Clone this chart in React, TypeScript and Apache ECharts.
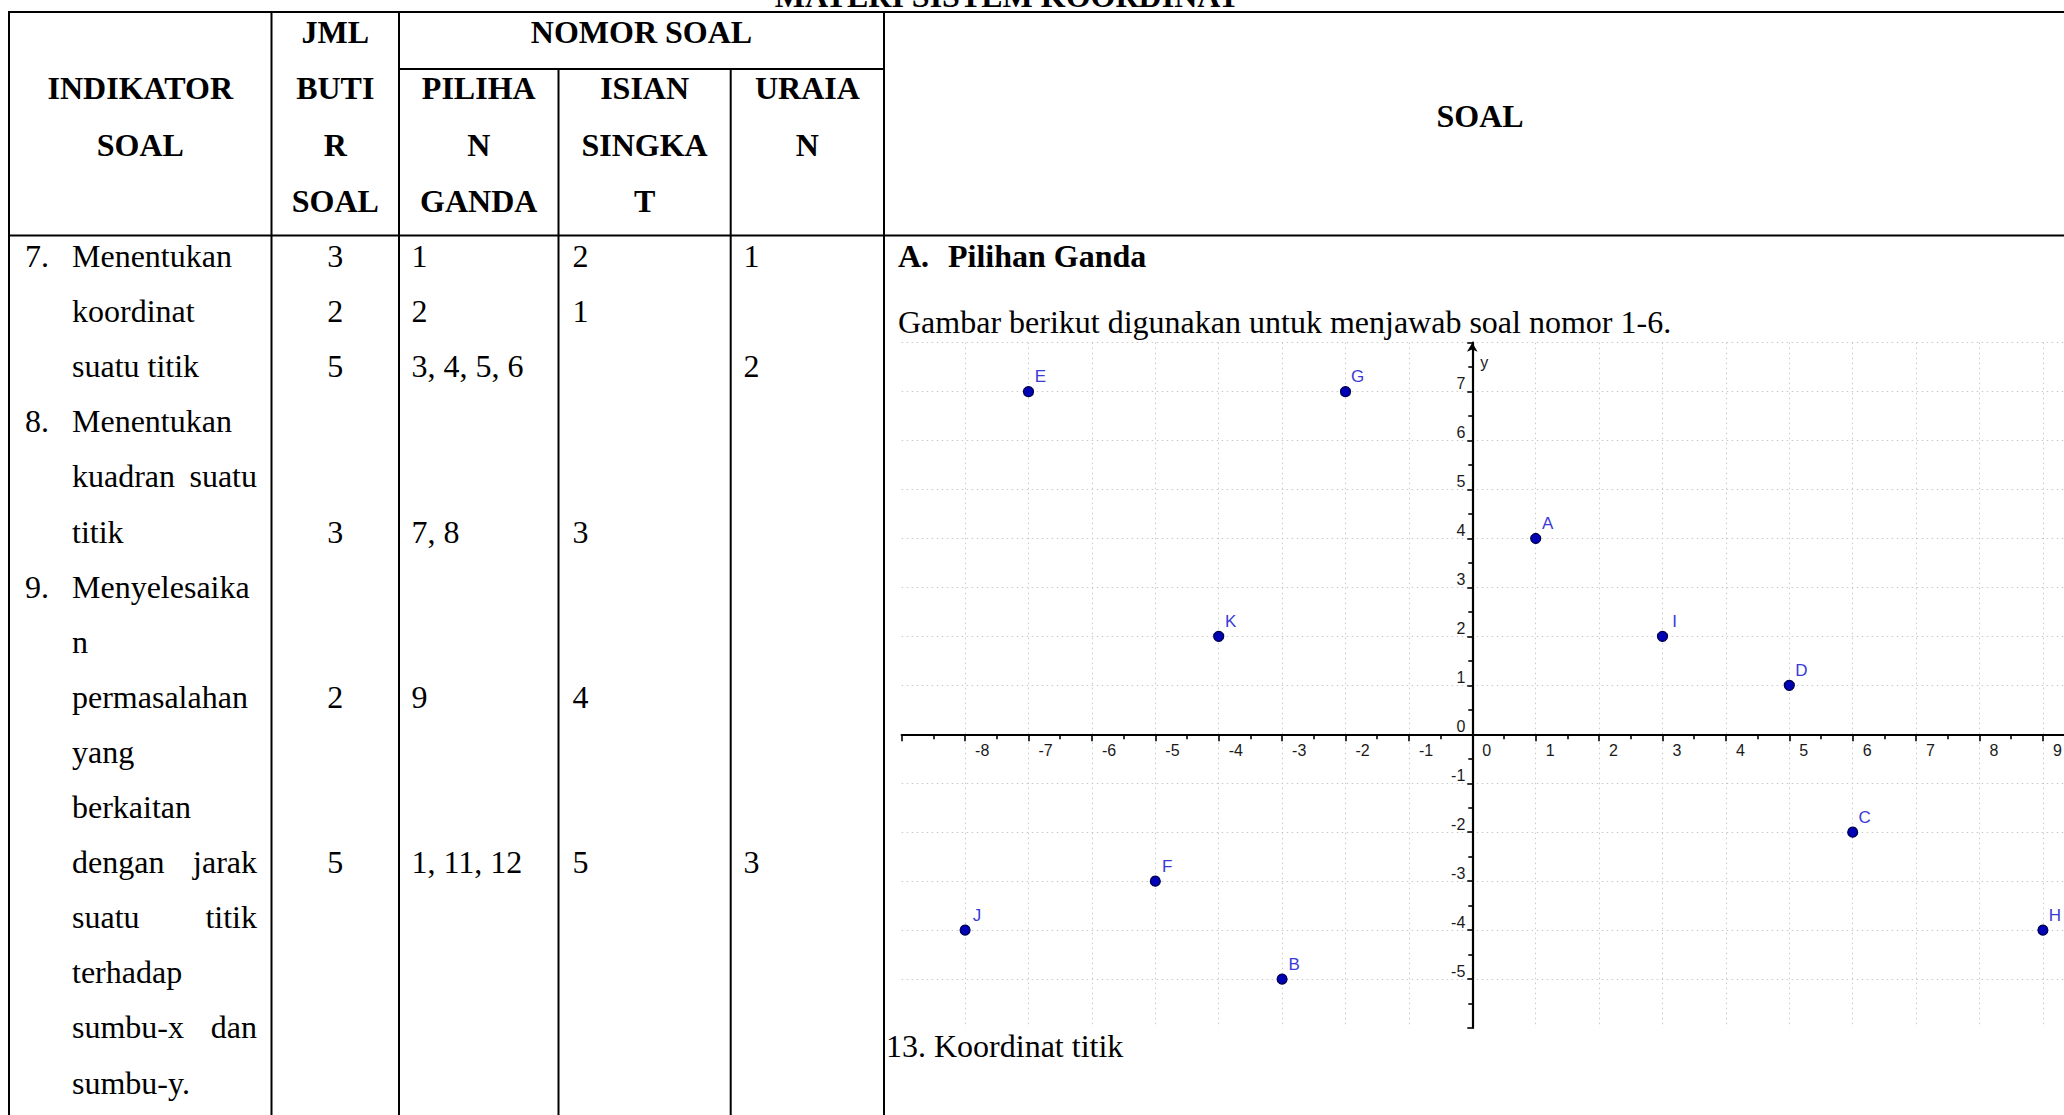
import React, { useEffect, useRef } from 'react';
import * as echarts from 'echarts';

// ---------- DATA ----------
const pageTitle = 'MATERI SISTEM KOORDINAT';
const headerIndikator = ['INDIKATOR', 'SOAL'];
const headerJml = ['JML', 'BUTI', 'R', 'SOAL'];
const headerNomor = 'NOMOR SOAL';
const headerPilihan = ['PILIHA', 'N', 'GANDA'];
const headerIsian = ['ISIAN', 'SINGKA', 'T'];
const headerUraian = ['URAIA', 'N'];
const headerSoal = 'SOAL';

const indikatorNo = ['7.', '', '', '8.', '', '', '9.', '', '', '', '', '', '', '', '', ''];
const indikatorLines = [
  ['Menentukan'], ['koordinat'], ['suatu titik'], ['Menentukan'], ['kuadran', 'suatu'], ['titik'],
  ['Menyelesaika'], ['n'], ['permasalahan'], ['yang'], ['berkaitan'], ['dengan', 'jarak'],
  ['suatu', 'titik'], ['terhadap'], ['sumbu-x', 'dan'], ['sumbu-y.'],
];
const jmlButir = ['3', '2', '5', '', '', '3', '', '', '2', '', '', '5', '', '', '', ''];
const nomorPilihan = ['1', '2', '3, 4, 5, 6', '', '', '7, 8', '', '', '9', '', '', '1, 11, 12', '', '', '', ''];
const nomorIsian = ['2', '1', '', '', '', '3', '', '', '4', '', '', '5', '', '', '', ''];
const nomorUraian = ['1', '', '2', '', '', '', '', '', '', '', '', '3', '', '', '', ''];

const sectionNo = 'A.';
const sectionTitle = 'Pilihan Ganda';
const introText = 'Gambar berikut digunakan untuk menjawab soal nomor 1-6.';
const nextQuestion = '13. Koordinat titik';

const pointNames = ['A', 'B', 'C', 'D', 'E', 'F', 'G', 'H', 'I', 'J', 'K'];
const pointX = [1, -3, 6, 5, -7, -5, -2, 9, 3, -8, -4];
const pointY = [4, -5, -2, 1, 7, -3, 7, -4, 2, -4, 2];
const xRange = [-9, 10];
const yRange = [-6, 8];
const axisNameY = 'y';

// ---------- LAYOUT ----------
const W = 2064;
const H = 1115;
const CW = 2150; // canvas wider than the page; the page clips it
const SERIF = '"Liberation Serif", "Times New Roman", serif';
const SANS = '"Liberation Sans", Arial, sans-serif';
const FS = 32;

const colX = [9, 271.5, 399, 558.5, 730.7, 884];
const tableTop = 12;
const headerMid = 69;
const headerBottom = 235.5;
const headerRowY = [32, 88.3, 144.5, 200.7];
const bodyY0 = 256;
const bodyStep = 55.1;

const unitX = 63.4;
const unitY = 48.95;
const originX = 1472.3;
const originY = 734.3;

function line(x1: number, y1: number, x2: number, y2: number, w = 2) {
  return { type: 'line', silent: true, shape: { x1, y1, x2, y2 }, style: { stroke: '#000', lineWidth: w } };
}
function text(t: string, x: number, y: number, align: string, bold = false, size = FS) {
  const font = `${bold ? 'bold ' : ''}${size}px ${SERIF}`;
  return {
    type: 'text', silent: true, x, y,
    style: {
      text: t, font, fill: '#000',
      align, verticalAlign: 'middle', textAlign: align, textVerticalAlign: 'middle',
    },
  };
}

function buildGraphic() {
  const g: any[] = [];
  g.push(text(pageTitle, 1007, -4.5, 'center', true));
  g.push(line(colX[0], tableTop, CW, tableTop));
  g.push(line(colX[0], headerBottom, CW, headerBottom));
  g.push(line(colX[2], headerMid, colX[5], headerMid));
  [0, 1, 2, 5].forEach((i) => g.push(line(colX[i], tableTop - 1, colX[i], H + 5)));
  [3, 4].forEach((i) => g.push(line(colX[i], headerMid, colX[i], H + 5)));

  const mid = (a: number, b: number) => (colX[a] + colX[b]) / 2;
  headerIndikator.forEach((t, i) => g.push(text(t, mid(0, 1), headerRowY[i + 1], 'center', true)));
  headerJml.forEach((t, i) => g.push(text(t, mid(1, 2), headerRowY[i], 'center', true)));
  g.push(text(headerNomor, mid(2, 5), headerRowY[0], 'center', true));
  headerPilihan.forEach((t, i) => g.push(text(t, mid(2, 3), headerRowY[i + 1], 'center', true)));
  headerIsian.forEach((t, i) => g.push(text(t, mid(3, 4), headerRowY[i + 1], 'center', true)));
  headerUraian.forEach((t, i) => g.push(text(t, mid(4, 5), headerRowY[i + 1], 'center', true)));
  g.push(text(headerSoal, 1480, 115.5, 'center', true));

  indikatorLines.forEach((words, k) => {
    const y = bodyY0 + bodyStep * k;
    if (indikatorNo[k]) g.push(text(indikatorNo[k], 25, y, 'left'));
    g.push(text(words[0], 72, y, 'left'));
    if (words.length > 1) g.push(text(words[1], 257, y, 'right'));
    if (jmlButir[k]) g.push(text(jmlButir[k], mid(1, 2), y, 'center'));
    if (nomorPilihan[k]) g.push(text(nomorPilihan[k], 411.5, y, 'left'));
    if (nomorIsian[k]) g.push(text(nomorIsian[k], 572.5, y, 'left'));
    if (nomorUraian[k]) g.push(text(nomorUraian[k], 743.5, y, 'left'));
  });

  g.push(text(sectionNo, 898, bodyY0, 'left', true));
  g.push(text(sectionTitle, 948, bodyY0, 'left', true));
  g.push(text(introText, 898, 322, 'left'));
  g.push(text(nextQuestion, 886, 1046, 'left'));
  return g;
}

function buildOption(): any {
  const hideEnds = (min: number, max: number) => (v: number) => (v === min || v === max ? '' : String(v));
  const gridLeft = originX + xRange[0] * unitX;
  const gridTop = originY - yRange[1] * unitY;
  const gridW = (xRange[1] - xRange[0]) * unitX;
  const gridH = (yRange[1] - yRange[0]) * unitY;
  const gridLine = { show: true, showMinLine: false, lineStyle: { color: '#c9c9c9', type: [1.5, 3.5], width: 1 } };
  return {
    animation: false,
    backgroundColor: '#fff',
    graphic: { elements: buildGraphic() },
    grid: { left: gridLeft, top: gridTop, width: gridW, height: gridH, containLabel: false },
    xAxis: {
      type: 'value', min: xRange[0], max: xRange[1], interval: 1,
      position: 'bottom', offset: -(gridTop + gridH - originY),
      axisLine: { onZero: false, lineStyle: { color: '#000', width: 2.2 } },
      axisTick: { show: true, length: 7, lineStyle: { color: '#000', width: 1.6 } },
      minorTick: { show: true, splitNumber: 2, length: 5, lineStyle: { color: '#000', width: 1.6 } },
      splitLine: gridLine,
      axisLabel: {
        formatter: hideEnds(xRange[0], xRange[1]), color: '#1a1a1a', fontFamily: SANS, fontSize: 16,
        align: 'left', padding: [0, 0, 0, 10], margin: 8,
      },
    },
    yAxis: {
      type: 'value', min: yRange[0], max: yRange[1], interval: 1,
      position: 'left', offset: -(originX - gridLeft),
      name: axisNameY, nameLocation: 'end', nameGap: -20,
      nameTextStyle: { color: '#1a1a1a', fontFamily: SANS, fontSize: 16, align: 'left', verticalAlign: 'middle', padding: [0, 0, 0, 8] },
      axisLine: { onZero: false, symbol: ['none', 'arrow'], symbolSize: [8, 9], lineStyle: { color: '#000', width: 2.2 } },
      axisTick: { show: true, length: 5, lineStyle: { color: '#000', width: 1.6 } },
      minorTick: { show: true, splitNumber: 2, length: 4, lineStyle: { color: '#000', width: 1.6 } },
      splitLine: gridLine,
      axisLabel: {
        formatter: hideEnds(yRange[0], yRange[1]), color: '#1a1a1a', fontFamily: SANS, fontSize: 16,
        align: 'right', verticalAlign: 'bottom', lineHeight: 16, margin: 7,
      },
    },
    series: [
      {
        type: 'scatter',
        clip: false,
        symbolSize: 10,
        data: pointNames.map((n, i) => ({ name: n, value: [pointX[i], pointY[i]] })),
        itemStyle: { color: '#0000b4', borderColor: '#00004a', borderWidth: 1.2, opacity: 1 },
        label: {
          show: true, position: 'inside', offset: [12, -15], formatter: '{b}',
          color: '#3a3ad6', fontFamily: SANS, fontSize: 17,
        },
        emphasis: { disabled: true },
      },
    ],
  };
}

export default function App() {
  const ref = useRef<HTMLDivElement>(null);
  useEffect(() => {
    document.body.style.margin = '0';
    const chart = echarts.init(ref.current as HTMLDivElement, null, { renderer: 'svg', width: CW, height: H });
    chart.setOption(buildOption());
    return () => chart.dispose();
  }, []);
  return (
    <div style={{ position: 'absolute', left: 0, top: 0, width: W, height: H, overflow: 'hidden', background: '#fff' }}>
      <div ref={ref} style={{ width: CW, height: H }} />
    </div>
  );
}
